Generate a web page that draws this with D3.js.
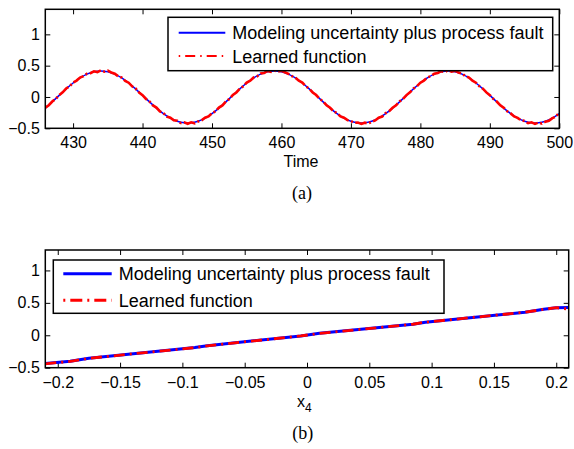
<!DOCTYPE html>
<html>
<head>
<meta charset="utf-8">
<script src="https://cdn.jsdelivr.net/npm/d3@7"></script>
<style>
  html, body { margin: 0; padding: 0; background: #fff; }
  svg { display: block; }
  text { font-family: "Liberation Sans", Arial, Helvetica, sans-serif; fill: #000; }
  .serif { font-family: "Liberation Serif", "Times New Roman", serif; }
</style>
</head>
<body>
<script>
// ---------- DATA ----------
// Panel (a): time series
const timeDomain = [426, 500];
const timeTicks = [430, 440, 450, 460, 470, 480, 490, 500];
const timeTickLabels = ["430", "440", "450", "460", "470", "480", "490", "500"];
const yTicksA = [-0.5, 0, 0.5, 1];
const yTickLabelsA = ["\u22120.5", "0", "0.5", "1"];
// "Modeling uncertainty plus process fault" sampled at t = 426, 427, ..., 500
const faultA = [
  -0.177, -0.078,
  0.026, 0.129, 0.223, 0.304, 0.365, 0.402, 0.416, 0.402, 0.365, 0.304, 0.223, 0.129, 0.026,
  -0.078, -0.177, -0.265, -0.337, -0.387, -0.413, -0.413, -0.387, -0.337, -0.265, -0.177, -0.078,
  0.026, 0.129, 0.223, 0.304, 0.365, 0.402, 0.416, 0.402, 0.365, 0.304, 0.223, 0.129, 0.026,
  -0.078, -0.177, -0.265, -0.337, -0.387, -0.413, -0.413, -0.387, -0.337, -0.265, -0.177, -0.078,
  0.026, 0.129, 0.223, 0.304, 0.365, 0.402, 0.416, 0.402, 0.365, 0.304, 0.223, 0.129, 0.026,
  -0.078, -0.177, -0.265, -0.337, -0.387, -0.413, -0.413, -0.387, -0.337, -0.265
];
// "Learned function" sampled at t = 426, 426.5, ..., 500
const learnedA = [
  -0.170, -0.131, -0.072, -0.030, 0.030, 0.075, 0.135, 0.172, 0.228, 0.262, 0.310, 0.332, 0.372, 0.380,
  0.410, 0.398, 0.425, 0.405, 0.420, 0.392, 0.372, 0.330, 0.310, 0.258, 0.228, 0.170, 0.135, 0.072,
  0.030, -0.032, -0.072, -0.135, -0.170, -0.230, -0.258, -0.312, -0.330, -0.373, -0.380, -0.415, -0.405,
  -0.428, -0.405, -0.420, -0.392, -0.372, -0.330, -0.310, -0.258, -0.230, -0.170, -0.135, -0.072, -0.032,
  0.032, 0.072, 0.133, 0.171, 0.230, 0.260, 0.312, 0.330, 0.375, 0.382, 0.415, 0.400, 0.422, 0.408,
  0.418, 0.395, 0.370, 0.333, 0.310, 0.260, 0.230, 0.172, 0.132, 0.073, 0.031, -0.031, -0.072, -0.134,
  -0.172, -0.228, -0.260, -0.310, -0.332, -0.370, -0.385, -0.412, -0.408, -0.430, -0.410, -0.425, -0.395,
  -0.375, -0.330, -0.312, -0.258, -0.228, -0.172, -0.133, -0.073, -0.030,
  0.030, 0.074, 0.134, 0.172, 0.228, 0.262, 0.310, 0.333, 0.372, 0.383, 0.412, 0.400, 0.425, 0.405,
  0.420, 0.390, 0.372, 0.332, 0.310, 0.260, 0.228, 0.172, 0.133, 0.073, 0.030, -0.030, -0.073, -0.133,
  -0.172, -0.228, -0.262, -0.310, -0.333, -0.372, -0.382, -0.418, -0.405, -0.430, -0.408, -0.425, -0.395,
  -0.380, -0.338, -0.315, -0.250
];

// Panel (b): function of x4
const x4Domain = [-0.21, 0.21];
const x4Ticks = [-0.2, -0.15, -0.1, -0.05, 0, 0.05, 0.1, 0.15, 0.2];
const x4TickLabels = ["\u22120.2", "\u22120.15", "\u22120.1", "\u22120.05", "0", "0.05", "0.1", "0.15", "0.2"];
const yTicksB = [-0.5, 0, 0.5, 1];
const yTickLabelsB = ["\u22120.5", "0", "0.5", "1"];
const x4Values = [-0.21, -0.19, -0.175, -0.09, -0.08, -0.005, 0.01, 0.085, 0.095, 0.175, 0.19, 0.2, 0.21];
const faultB = [-0.435, -0.400, -0.355, -0.190, -0.160, -0.010, 0.030, 0.170, 0.200, 0.355, 0.400, 0.425, 0.430];
const learnedB = [-0.440, -0.402, -0.355, -0.190, -0.162, -0.010, 0.028, 0.170, 0.202, 0.355, 0.400, 0.425, 0.405];

const legendLabels = ["Modeling uncertainty plus process fault", "Learned function"];

// ---------- DRAW ----------
const W = 574, H = 449;
const svg = d3.select("body").append("svg").attr("width", W).attr("height", H);

function drawPanel(cfg) {
  const g = svg.append("g");
  const x = d3.scaleLinear().domain(cfg.xDomain).range([cfg.left, cfg.right]);
  const y = d3.scaleLinear().domain(cfg.yDomain).range([cfg.bottom, cfg.top]);
  const clipId = "clip" + cfg.id;
  svg.append("clipPath").attr("id", clipId).append("rect")
    .attr("x", cfg.left).attr("y", cfg.top)
    .attr("width", cfg.right - cfg.left).attr("height", cfg.bottom - cfg.top);

  // axes with inward ticks
  const tk = 5;
  const xb = g.append("g").attr("transform", `translate(0,${cfg.bottom})`)
    .call(d3.axisBottom(x).tickValues(cfg.xTicks).tickSize(-tk).tickPadding(8.8)
      .tickFormat((d, i) => cfg.xTickLabels[i]));
  const xt = g.append("g").attr("transform", `translate(0,${cfg.top})`)
    .call(d3.axisTop(x).tickValues(cfg.xTicks).tickSize(-tk).tickFormat(""));
  const yl = g.append("g").attr("transform", `translate(${cfg.left},0)`)
    .call(d3.axisLeft(y).tickValues(cfg.yTicks).tickSize(-tk).tickPadding(5.5)
      .tickFormat((d, i) => cfg.yTickLabels[i]));
  const yr = g.append("g").attr("transform", `translate(${cfg.right},0)`)
    .call(d3.axisRight(y).tickValues(cfg.yTicks).tickSize(-tk).tickFormat(""));
  [xb, xt, yl, yr].forEach(a => {
    a.select(".domain").remove();
    a.selectAll(".tick line").attr("stroke", "#000").attr("stroke-width", 1);
    a.selectAll(".tick text").attr("font-size", 16).attr("font-family", "Liberation Sans, Arial, sans-serif").attr("fill", "#000");
  });

  // lines
  const lg = g.append("g").attr("clip-path", `url(#${clipId})`);
  lg.append("path")
    .attr("d", d3.line().x(d => x(d[0])).y(d => y(d[1])).curve(cfg.blueCurve)(cfg.blue))
    .attr("fill", "none").attr("stroke", "#0000ff").attr("stroke-width", cfg.blueW)
    .attr("stroke-linejoin", "round");
  lg.append("path")
    .attr("d", d3.line().x(d => x(d[0])).y(d => y(d[1]))(cfg.red))
    .attr("fill", "none").attr("stroke", "#ff0000").attr("stroke-width", cfg.redW)
    .attr("stroke-dasharray", cfg.redDash);

  // box
  g.append("rect").attr("x", cfg.left).attr("y", cfg.top)
    .attr("width", cfg.right - cfg.left).attr("height", cfg.bottom - cfg.top)
    .attr("fill", "none").attr("stroke", "#000").attr("stroke-width", 1.5);

  // legend
  const L = cfg.legend;
  const lgd = g.append("g");
  lgd.append("rect").attr("x", L.x0).attr("y", L.y0).attr("width", L.x1 - L.x0).attr("height", L.y1 - L.y0)
    .attr("fill", "#fff").attr("stroke", "#000").attr("stroke-width", 1.5);
  lgd.append("line").attr("x1", L.sx0).attr("x2", L.sx1).attr("y1", L.r1).attr("y2", L.r1)
    .attr("stroke", "#0000ff").attr("stroke-width", L.bw);
  lgd.append("line").attr("x1", L.sx0).attr("x2", L.sx1).attr("y1", L.r2).attr("y2", L.r2)
    .attr("stroke", "#ff0000").attr("stroke-width", L.rw).attr("stroke-dasharray", L.dash);
  lgd.append("text").attr("x", L.tx).attr("y", L.r1 + 6.5).attr("font-size", 18).text(legendLabels[0]);
  lgd.append("text").attr("x", L.tx).attr("y", L.r2 + 6.5).attr("font-size", 18).text(legendLabels[1]);
  return { x, y, g };
}

// Panel (a)
const pa = drawPanel({
  id: "a", left: 45.3, right: 559.3, top: 9.3, bottom: 128.3,
  xDomain: timeDomain, yDomain: [-0.5, 1.4],
  xTicks: timeTicks, xTickLabels: timeTickLabels, yTicks: yTicksA, yTickLabels: yTickLabelsA,
  blue: faultA.map((v, i) => [timeDomain[0] + i, v]), blueCurve: d3.curveCatmullRom, blueW: 1.5,
  red: learnedA.map((v, i) => [timeDomain[0] + i * 0.5, v]), redW: 2.6, redDash: "12,2.5,2,2.5",
  legend: { x0: 168, x1: 552.7, y0: 17.3, y1: 70.7, r1: 32.7, r2: 56, sx0: 178.7, sx1: 225.3, tx: 232.3, bw: 2, rw: 2, dash: "1.5,5,10,5" }
});
pa.g.append("text").attr("x", 301).attr("y", 167).attr("text-anchor", "middle").attr("font-size", 16).text("Time");
pa.g.append("text").attr("class", "serif").attr("x", 302).attr("y", 199).attr("text-anchor", "middle").attr("font-size", 18).text("(a)");

// Panel (b)
const pb = drawPanel({
  id: "b", left: 45.3, right: 568.7, top: 250, bottom: 367.7,
  xDomain: x4Domain, yDomain: [-0.5, 1.315],
  xTicks: x4Ticks, xTickLabels: x4TickLabels, yTicks: yTicksB, yTickLabels: yTickLabelsB,
  blue: x4Values.map((v, i) => [v, faultB[i]]), blueCurve: d3.curveLinear, blueW: 3,
  red: x4Values.map((v, i) => [v, learnedB[i]]), redW: 2.8, redDash: "11,5,2,5",
  legend: { x0: 53.3, x1: 444, y0: 260, y1: 313.3, r1: 273.7, r2: 300.3, sx0: 63.3, sx1: 111.7, tx: 118.7, bw: 3, rw: 3, dash: "2,5,12,5" }
});
const xl = pb.g.append("text").attr("x", 297).attr("y", 407).attr("font-size", 16);
xl.append("tspan").text("x");
xl.append("tspan").attr("dy", 5).attr("font-size", 12).text("4");
pb.g.append("text").attr("class", "serif").attr("x", 302.7).attr("y", 439).attr("text-anchor", "middle").attr("font-size", 18).text("(b)");
</script>
</body>
</html>
